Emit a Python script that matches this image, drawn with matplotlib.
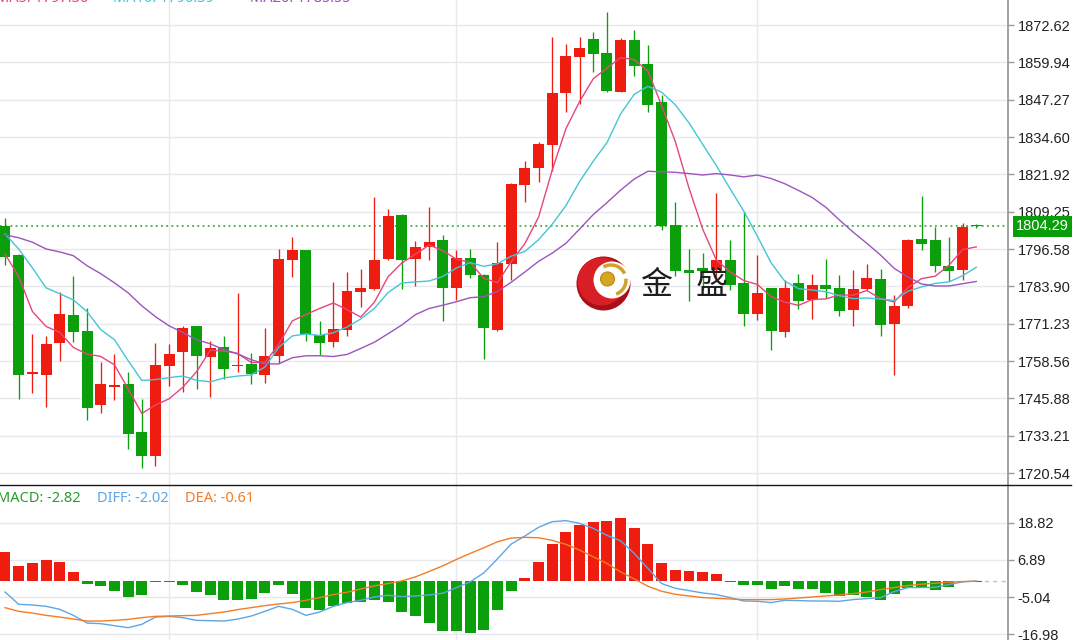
import numpy as np
import pandas as pd
import matplotlib
matplotlib.use("Agg")
import matplotlib.pyplot as plt
from matplotlib.patches import Circle, Arc
from matplotlib.lines import Line2D
from matplotlib.transforms import blended_transform_factory, IdentityTransform

# --- daily candles ---
opens = [1804.5, 1794.6, 1754.3, 1753.9, 1764.7, 1774.3, 1768.9, 1743.5, 1749.9, 1750.6,
         1734.5, 1726.4, 1756.7, 1761.7, 1770.3, 1759.8, 1763.2, 1756.8, 1757.4, 1753.9,
         1760.1, 1792.9, 1796.1, 1767.5, 1765.0, 1769.2, 1782.0, 1783.1, 1793.3, 1808.2,
         1793.2, 1797.2, 1799.7, 1783.2, 1793.5, 1787.6, 1769.2, 1791.6, 1818.4, 1824.2,
         1831.9, 1849.5, 1861.9, 1867.8, 1863.0, 1850.0, 1867.5, 1859.3, 1846.4, 1804.8,
         1789.5, 1790.0, 1789.3, 1792.9, 1785.0, 1774.5, 1783.3, 1768.3, 1785.0, 1779.3,
         1784.4, 1783.4, 1776.0, 1783.0, 1786.5, 1771.2, 1777.1, 1800.0, 1799.5, 1790.9,
         1789.3, 1804.6]
highs = [1807.2, 1795.0, 1767.8, 1767.2, 1782.1, 1787.5, 1776.7, 1758.1, 1761.0, 1754.7,
         1745.8, 1764.7, 1764.4, 1770.6, 1770.6, 1765.2, 1767.2, 1781.6, 1761.3, 1769.7,
         1796.5, 1800.8, 1796.3, 1772.3, 1785.3, 1788.7, 1789.8, 1814.2, 1810.1, 1808.5,
         1799.4, 1810.7, 1801.4, 1796.1, 1796.5, 1788.2, 1799.1, 1818.9, 1826.6, 1833.0,
         1868.7, 1866.2, 1868.7, 1870.4, 1877.1, 1868.1, 1870.9, 1865.8, 1848.9, 1812.5,
         1796.5, 1795.2, 1815.7, 1799.7, 1809.3, 1794.6, 1783.5, 1786.1, 1788.1, 1788.1,
         1793.3, 1787.8, 1789.5, 1791.6, 1789.8, 1781.0, 1800.0, 1814.6, 1804.2, 1800.6,
         1805.4, 1805.0]
lows = [1791.2, 1745.8, 1747.8, 1742.8, 1758.4, 1765.1, 1738.6, 1740.9, 1745.2, 1728.7,
        1722.3, 1722.8, 1750.2, 1748.2, 1749.1, 1746.3, 1752.4, 1754.9, 1750.8, 1751.1,
        1757.9, 1787.0, 1765.2, 1760.7, 1763.3, 1767.2, 1776.9, 1782.5, 1792.9, 1783.0,
        1783.9, 1792.7, 1772.3, 1779.3, 1786.7, 1759.2, 1768.8, 1786.1, 1812.7, 1819.3,
        1822.9, 1843.2, 1845.8, 1856.8, 1850.0, 1849.8, 1855.3, 1843.2, 1802.9, 1787.5,
        1779.1, 1782.7, 1787.2, 1782.7, 1770.3, 1772.6, 1762.4, 1766.7, 1776.2, 1772.8,
        1779.9, 1773.9, 1770.6, 1782.8, 1767.1, 1753.9, 1776.6, 1796.3, 1788.7, 1785.6,
        1786.1, 1803.6]
closes = [1794.0, 1753.7, 1754.7, 1764.4, 1774.6, 1768.3, 1742.6, 1750.6, 1750.2, 1733.9,
          1726.4, 1757.1, 1761.1, 1769.8, 1760.1, 1763.0, 1755.8, 1757.1, 1754.2, 1760.3,
          1793.2, 1796.1, 1767.8, 1764.7, 1769.4, 1782.2, 1783.3, 1792.9, 1807.9, 1792.8,
          1797.1, 1799.0, 1783.3, 1793.4, 1787.6, 1769.7, 1792.0, 1818.6, 1824.2, 1832.2,
          1849.7, 1862.2, 1864.9, 1862.8, 1850.3, 1867.5, 1858.8, 1845.5, 1804.3, 1789.2,
          1788.6, 1789.1, 1792.9, 1784.4, 1774.5, 1781.8, 1768.6, 1783.5, 1778.8, 1784.3,
          1783.0, 1775.4, 1783.0, 1786.7, 1770.9, 1777.1, 1799.7, 1798.2, 1790.9, 1789.2,
          1803.9, 1804.29]

# moving-average values before a full window exists
ma5_head = [1794.9, 1787.2, 1775.4, 1770.3]
ma10_head = [1801.7, 1796.6, 1790.2, 1783.4, 1781.4, 1779.3, 1775.3, 1769.2, 1765.8]
ma20_head = [1801.4, 1800.4, 1798.9, 1796.6, 1795.6, 1794.3, 1790.9, 1788.2, 1785.1, 1781.7,
             1777.3, 1773.6, 1770.5, 1768.2, 1765.8, 1764.4, 1762.4, 1761.0, 1759.0]

# --- MACD panel ---
macd_hist = [9.51, 4.90, 5.77, 6.74, 6.09, 2.87, -0.90, -1.32, -3.06, -5.09,
             -4.22, -0.26, -0.26, -1.13, -3.26, -4.22, -5.84, -5.84, -5.51, -3.58,
             -1.13, -4.03, -8.54, -9.06, -8.00, -6.80, -6.71, -6.06, -6.61, -9.83,
             -11.22, -13.38, -15.96, -15.96, -16.60, -15.51, -9.06, -3.06, 1.13, 6.29,
             11.90, 15.86, 18.02, 18.99, 19.41, 20.47, 17.05, 12.09, 5.77, 3.61,
             3.39, 3.06, 2.32, -0.10, -1.22, -1.22, -2.42, -1.32, -2.29, -2.51,
             -3.58, -4.77, -4.35, -5.00, -6.06, -4.03, -1.97, -2.10, -2.84, -1.93,
             -0.30, -0.20]
diff = [-3.39, -7.35, -7.57, -7.99, -8.96, -10.90, -13.38, -13.57, -14.22, -14.86,
        -13.79, -11.45, -11.22, -11.64, -12.51, -12.61, -12.74, -12.10, -11.13, -9.61,
        -8.00, -8.96, -10.90, -9.83, -8.00, -6.80, -6.06, -5.00, -4.45, -4.87,
        -4.67, -4.35, -3.80, -1.97, -0.16, 2.74, 7.25, 11.99, 14.57, 17.38,
        19.18, 19.51, 18.67, 17.05, 14.80, 13.06, 8.99, 4.16, -0.68, -2.20,
        -2.95, -3.71, -4.22, -5.19, -6.29, -6.38, -6.80, -6.06, -6.16, -6.29,
        -6.29, -6.38, -5.84, -5.51, -5.19, -3.26, -1.97, -1.97, -1.87, -1.00,
        -0.16, 0.16]
dea = [-8.42, -9.61, -10.16, -10.90, -11.45, -12.09, -12.73, -12.73, -12.51, -12.19,
       -11.64, -11.22, -11.12, -10.99, -10.90, -10.35, -9.83, -9.06, -8.42, -7.77,
       -7.25, -6.80, -6.06, -5.19, -4.22, -3.48, -2.42, -1.45, -0.68, 0.16,
       1.45, 3.19, 5.00, 7.06, 8.99, 10.80, 12.74, 13.93, 14.15, 14.02,
       13.19, 11.90, 10.06, 7.90, 5.77, 3.06, 0.81, -1.55, -3.16, -4.13,
       -4.67, -5.19, -5.42, -5.64, -5.84, -5.84, -5.84, -5.64, -5.32, -5.00,
       -4.67, -4.35, -3.90, -3.39, -2.61, -1.97, -1.32, -0.90, -0.58, -0.26,
       -0.03, 0.06]

price_ticks = [1720.54, 1733.21, 1745.88, 1758.56, 1771.23, 1783.90, 1796.58,
               1809.25, 1821.92, 1834.60, 1847.27, 1859.94, 1872.62]
macd_ticks = [-16.98, -5.04, 6.89, 18.82]
month_starts = [12, 33, 55]
macd_labels = ["MACD: -2.82", "DIFF: -2.02", "DEA: -0.61"]

RED = "#ee1d0f"
GREEN = "#0c9f0c"
GRID = "#e6eaef"

plt.rcParams['font.family'] = ['Liberation Sans', 'DejaVu Sans']

closes_s = pd.Series(closes)


def moving_average(n, head):
    ma = closes_s.rolling(n).mean()
    ma.iloc[:n - 1] = head
    return ma


ma5 = moving_average(5, ma5_head)
ma10 = moving_average(10, ma10_head)
ma20 = moving_average(20, ma20_head)

W, H = 1077, 640
fig = plt.figure(figsize=(W / 100, H / 100), dpi=100)
ax1 = fig.add_axes([0, 155 / H, 1008 / W, 485 / H])
ax2 = fig.add_axes([0, -20 / H, 1008 / W, 175 / H])

x = np.arange(len(closes))
o = np.array(opens)
c = np.array(closes)
up = c >= o
cols = np.where(up, RED, GREEN)

for ax in (ax1, ax2):
    ax.set_xlim(-0.366, 73.32)
    ax.yaxis.tick_right()
    for s in ("left", "top", "bottom"):
        ax.spines[s].set_visible(False)
    ax.spines["right"].set_color("#9a9a9a")
    ax.spines["right"].set_linewidth(1.3)
    ax.tick_params(axis="y", length=4, width=1, color="#9a9a9a", pad=3,
                   labelsize=10.5, labelcolor="#222222")
    ax.tick_params(axis="x", length=0, labelbottom=False)
    ax.set_xticks(month_starts)
    ax.grid(True, color=GRID, linewidth=1)
    ax.set_axisbelow(True)

# --- candles ---
ax1.vlines(x, lows, highs, colors=cols, linewidth=0.95, zorder=2)
body = np.maximum(np.abs(c - o), 0.4)
ax1.bar(x, body, bottom=np.minimum(o, c), width=0.8, color=cols, zorder=3)

ax1.plot(x, ma5, color="#e8457d", linewidth=1.0, zorder=4)
ax1.plot(x, ma10, color="#45c5d6", linewidth=1.0, zorder=4)
ax1.plot(x, ma20, color="#9b55bd", linewidth=1.0, zorder=4)

ax1.set_ylim(1716.47, 1881.11)
ax1.set_yticks(price_ticks)
ax1.set_yticklabels([f"{t:.2f}" for t in price_ticks])

last = closes[-1]
ax1.axhline(last, color="#1aa31a", linestyle=(0, (1.2, 2.2)), linewidth=1.1, zorder=1)
tr = blended_transform_factory(ax1.transAxes, ax1.transData)
ax1.text(1016 / 1008, last, f"{last:.2f}", transform=tr, ha="left", va="center",
         color="white", fontsize=10.5, clip_on=False,
         bbox=dict(boxstyle="square,pad=0.22", facecolor="#0a9d0a", edgecolor="none"))

# --- MACD ---
hist = np.array(macd_hist)
ax2.bar(x, hist, width=0.8, color=np.where(hist >= 0, RED, GREEN), zorder=2)
ax2.plot(x, diff, color="#5ea6e6", linewidth=1.0, zorder=3)
ax2.plot(x, dea, color="#f47c26", linewidth=1.0, zorder=3)
ax2.plot([x[-1], 73.32], [diff[-1], diff[-1]], color="#9fc9ea",
         linestyle=(0, (3, 3)), linewidth=1.0, zorder=1)
ax2.set_ylim(-25.24, 30.97)
ax2.set_yticks(macd_ticks)
ax2.set_yticklabels([f"{t:.2f}" for t in macd_ticks])

# panel divider
fig.add_artist(Line2D([0, 1071 / W], [155 / H, 155 / H], color="#1a1a1a", linewidth=1.0))

# legends (cut off at the edges like the screenshot)
ma_texts = [(f"MA5: {ma5.iloc[-1]:.2f}", "#e8457d", -4),
            (f"MA10: {ma10.iloc[-1]:.2f}", "#45c5d6", 113),
            (f"MA20: {ma20.iloc[-1]:.2f}", "#9b55bd", 250)]
for txt, col, px in ma_texts:
    fig.text(px / W, 1 - 2 / H, txt, color=col, fontsize=10.5, va="baseline",
             family=["Noto Sans", "DejaVu Sans"])
for txt, col, px in zip(macd_labels, ["#2a9e2a", "#5ea6e6", "#f47c26"], [-3, 97, 185]):
    fig.text(px / W, (H - 498) / H, txt, color=col, fontsize=10.5, va="center",
             family=["Noto Sans", "DejaVu Sans"])

# --- watermark logo ---
idt = IdentityTransform()
fig.add_artist(Circle((603.5, H - 283.5), 27, transform=idt, facecolor="#a80f18",
                      edgecolor="none", zorder=5))
fig.add_artist(Circle((601.5, H - 281.5), 24, transform=idt, facecolor="#d81f26",
                      edgecolor="none", zorder=5))
fig.add_artist(Circle((612, H - 280), 18.5, transform=idt, facecolor="white",
                      edgecolor="none", zorder=5))
fig.add_artist(Arc((611, H - 280), 30, 30, theta1=25, theta2=120, transform=idt,
                   color="#d2a12a", linewidth=2.5, zorder=6))
fig.add_artist(Arc((611, H - 280), 30, 30, theta1=-70, theta2=5, transform=idt,
                   color="#d2a12a", linewidth=2.5, zorder=6))
fig.add_artist(Circle((607.5, H - 279), 7, transform=idt, facecolor="#d6a623",
                      edgecolor="#b8861a", linewidth=0.8, zorder=6))
for ch, px in [("金", 656.5), ("盛", 711.5)]:
    fig.text(px / W, (H - 285) / H, ch, fontsize=23, ha="center", va="center",
             color="#1e1e1e", family=["Noto Sans CJK SC"], zorder=7)

fig.savefig("out.png", dpi=100)
